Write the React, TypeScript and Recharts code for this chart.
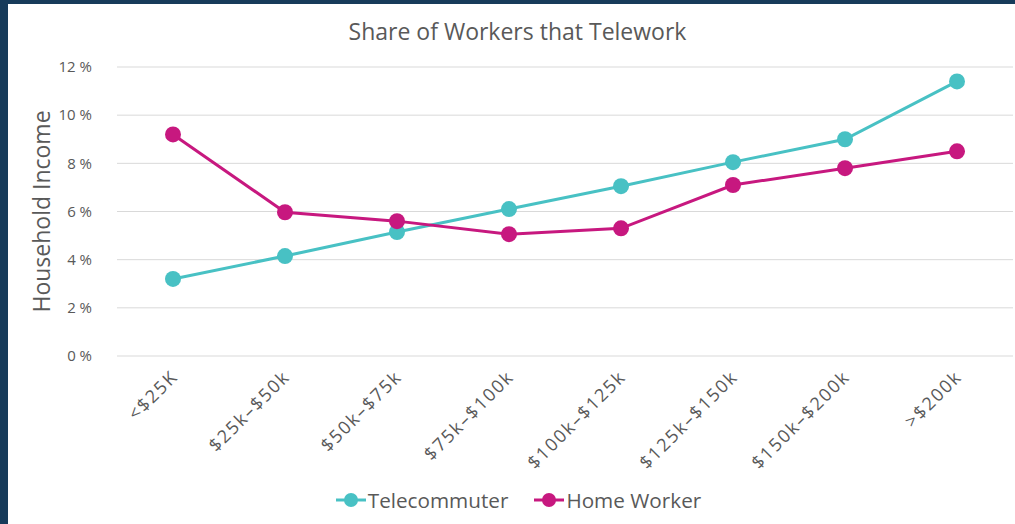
import { LineChart, Line, XAxis, YAxis, CartesianGrid, Legend } from "recharts";

const categories = ["<$25K", "$25k–$50k", "$50k–$75k", "$75k–$100k", "$100k–$125k", "$125k–$150k", "$150k–$200k", ">$200k"];
const telecommuter = [3.2, 4.15, 5.15, 6.1, 7.05, 8.05, 9.0, 11.4];
const homeWorker = [9.2, 5.97, 5.6, 5.06, 5.3, 7.1, 7.8, 8.5];
const yTicks = [0, 2, 4, 6, 8, 10, 12];

const data = categories.map((name, i) => ({
  name,
  telecommuter: telecommuter[i],
  homeWorker: homeWorker[i],
}));

const TEAL = "#48C1C4";
const MAGENTA = "#C7187F";
const TEXT = "#595959";
const FONT = "'Open Sans', sans-serif";

const XTick = (props: any) => {
  const { x, y, payload } = props;
  const tx = x + 6;
  const ty = y + 14;
  return (
    <text
      x={tx}
      y={ty}
      textAnchor="end"
      fill={TEXT}
      fontSize={18}
      letterSpacing={1.8}
      fontFamily={FONT}
      transform={`rotate(-45 ${tx} ${ty})`}
    >
      {payload.value}
    </text>
  );
};

const LegendContent = () => {
  const items = [
    { label: "Telecommuter", color: TEAL },
    { label: "Home Worker", color: MAGENTA },
  ];
  return (
    <div style={{ height: 40, display: "flex", justifyContent: "center", alignItems: "center", gap: 26, paddingLeft: 4 }}>
      {items.map((it) => (
        <div key={it.label} style={{ display: "flex", alignItems: "center" }}>
          <svg width={30} height={16}>
            <line x1={0} y1={8} x2={30} y2={8} stroke={it.color} strokeWidth={3} />
            <circle cx={15} cy={8} r={7} fill={it.color} />
          </svg>
          <span style={{ fontFamily: FONT, fontSize: 20.7, color: TEXT, marginLeft: 2 }}>{it.label}</span>
        </div>
      ))}
    </div>
  );
};

export default function App() {
  return (
    <div style={{ position: "fixed", left: 0, top: 0, width: 1015, height: 524, background: "#173B5A" }}>
      <div style={{ position: "absolute", left: 8, top: 4, right: 0, bottom: 0, background: "#fff" }} />
      <div
        style={{
          position: "absolute",
          left: 20,
          right: 0,
          top: 15,
          textAlign: "center",
          fontFamily: FONT,
          fontSize: 23,
          color: TEXT,
        }}
      >
        Share of Workers that Telework
      </div>
      <div style={{ position: "absolute", left: 0, top: 0 }}>
        <LineChart width={1015} height={524} data={data} margin={{ top: 67, right: 2, left: 20, bottom: 4 }}>
          <CartesianGrid vertical={false} stroke="#D9D9D9" strokeWidth={1} />
          <XAxis
            dataKey="name"
            axisLine={false}
            tickLine={false}
            interval={0}
            height={124}
            padding={{ left: 56, right: 56 }}
            tick={<XTick />}
          />
          <YAxis
            width={97}
            domain={[0, 12]}
            ticks={yTicks}
            axisLine={false}
            tickLine={false}
            tickSize={0}
            tickMargin={25}
            tickFormatter={(v) => `${v} %`}
            tick={{ fill: TEXT, fontSize: 15, fontFamily: FONT }}
            label={{
              value: "Household Income",
              angle: -90,
              position: "insideLeft",
              offset: 22,
              style: { textAnchor: "middle", fill: TEXT, fontSize: 23, fontFamily: FONT },
            }}
          />
          <Legend verticalAlign="bottom" content={<LegendContent />} />
          <Line
            dataKey="telecommuter"
            stroke={TEAL}
            strokeWidth={3}
            dot={{ r: 8, fill: TEAL, stroke: "none" }}
            activeDot={false}
            isAnimationActive={false}
          />
          <Line
            dataKey="homeWorker"
            stroke={MAGENTA}
            strokeWidth={3}
            dot={{ r: 8, fill: MAGENTA, stroke: "none" }}
            activeDot={false}
            isAnimationActive={false}
          />
        </LineChart>
      </div>
    </div>
  );
}
